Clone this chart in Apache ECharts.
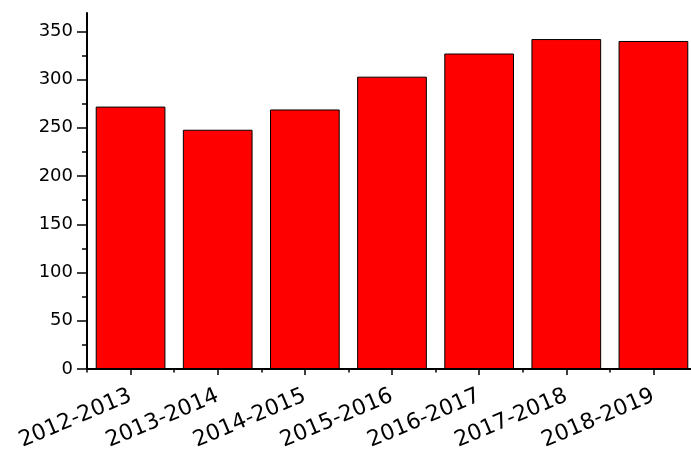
<!DOCTYPE html>
<html>
<head>
<meta charset="utf-8">
<style>
  html, body { margin: 0; padding: 0; background: #fff; }
  #chart { width: 691px; height: 450px; }
</style>
<script src="https://cdn.jsdelivr.net/npm/echarts@6/dist/echarts.min.js"></script>
</head>
<body>
<div id="chart"></div>
<script>
// School years and their totals
const categories = ['2012-2013', '2013-2014', '2014-2015', '2015-2016', '2016-2017', '2017-2018', '2018-2019'];
const values = [272, 248, 269, 303, 327, 342, 340];

// Value-axis ticks: labelled majors and unlabelled minors
const yMajorTicks = [0, 50, 100, 150, 200, 250, 300, 350];
const yMinorTicks = [25, 75, 125, 175, 225, 275, 325];
const yMin = 0;
const yMax = 369;

const chart = echarts.init(document.getElementById('chart'), null, { renderer: 'canvas' });

// Plot box runs slightly past the right edge of the canvas
const gridBox = {
  left: 87, width: 610, top: 13, bottom: 81,
  containLabel: false,
  outerBoundsMode: 'none'
};
const font = 'DejaVu Sans';

chart.setOption({
  animation: false,
  backgroundColor: '#ffffff',
  // Two identical grids: the second only carries the minor ticks
  grid: [Object.assign({}, gridBox), Object.assign({}, gridBox)],
  xAxis: [
    {
      gridIndex: 0,
      type: 'category',
      data: categories,
      boundaryGap: true,
      axisLine: { show: true, lineStyle: { color: '#000', width: 2 } },
      axisTick: { show: true, alignWithLabel: true, length: 6, lineStyle: { color: '#000', width: 1.5 } },
      axisLabel: {
        show: true,
        interval: 0,
        rotate: 23,
        margin: 26,
        color: '#000',
        fontFamily: font,
        fontSize: 22
      },
      splitLine: { show: false }
    },
    {
      gridIndex: 1,
      type: 'category',
      data: categories,
      boundaryGap: true,
      axisLine: { show: false },
      axisTick: { show: true, alignWithLabel: false, length: 3.5, lineStyle: { color: '#000', width: 1.5 } },
      axisLabel: { show: false },
      splitLine: { show: false }
    }
  ],
  yAxis: [
    {
      gridIndex: 0,
      type: 'value',
      min: yMin,
      max: yMax,
      interval: 50,
      axisLine: { show: true, lineStyle: { color: '#000', width: 2 } },
      axisTick: { show: true, customValues: yMajorTicks, length: 10, lineStyle: { color: '#000', width: 1.5 } },
      axisLabel: {
        show: true,
        customValues: yMajorTicks,
        margin: 14,
        color: '#000',
        fontFamily: font,
        fontSize: 18
      },
      splitLine: { show: false }
    },
    {
      gridIndex: 1,
      type: 'value',
      min: yMin,
      max: yMax,
      interval: 50,
      axisLine: { show: false },
      axisTick: { show: true, customValues: yMinorTicks, length: 5, lineStyle: { color: '#000', width: 1.5 } },
      axisLabel: { show: false },
      splitLine: { show: false }
    }
  ],
  series: [
    {
      type: 'bar',
      xAxisIndex: 0,
      yAxisIndex: 0,
      data: values,
      barCategoryGap: '20%',
      itemStyle: { color: '#ff0000', borderColor: '#000', borderWidth: 1 },
      z: 1
    }
  ]
});
</script>
</body>
</html>
